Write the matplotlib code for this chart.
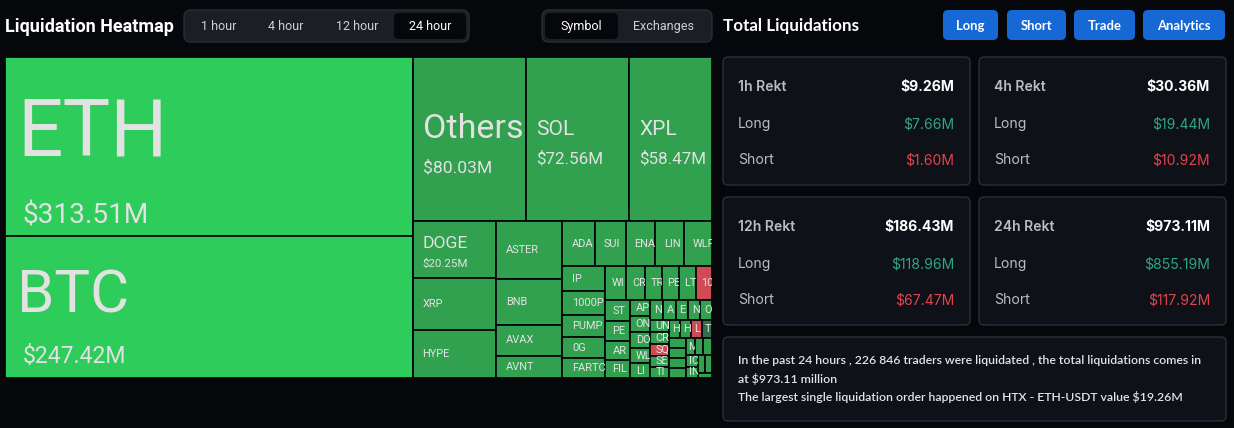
import numpy as np
import matplotlib.pyplot as plt
from matplotlib.patches import Rectangle, FancyBboxPatch

# liquidations per coin, 24h, USD millions (largest first)
coins = ["ETH", "BTC", "Others", "SOL", "XPL", "DOGE", "XRP", "HYPE", "ASTER", "BNB",
         "AVAX", "AVNT", "ADA", "SUI", "ENA", "LINK", "WLFI", "IP", "1000PEPE", "PUMP",
         "0G", "FARTCOIN", "WIF", "CRO", "TRUMP", "PENDLE", "LTC", "1000BONK", "STBL",
         "PENGU", "ARB", "FIL", "APT", "ONDO", "DOT", "WLD", "LINEA", "NEAR", "AAVE",
         "ETC", "NMR", "OP", "UNI", "CRV", "SQD", "SEI", "TIA", "HBAR", "HOME", "LDO", "TAO",
         "JUP", "ZEC", "TON", "KAITO", "MNT", "BCH", "XLM", "ICP", "INJ", "ATOM", "ALGO", "KAS"]
values = [313.51, 247.42, 80.03, 72.56, 58.47, 20.25, 18.6, 17.2, 16.4, 13.0,
          8.8, 6.3, 6.25, 5.98, 5.7, 5.55, 5.46, 4.61, 4.43, 4.06,
          3.87, 3.61, 3.02, 2.73, 2.46, 2.44, 2.42, 2.30, 2.2,
          2.05, 2.0, 1.85, 1.45, 1.4, 1.38, 1.35, 1.3, 1.12, 1.1,
          1.08, 1.05, 1.0, 0.97, 0.95, 0.92, 0.9, 0.88, 0.85, 0.83, 0.8, 0.78,
          0.76, 0.74, 0.72, 0.7, 0.68, 0.66, 0.64, 0.62, 0.6, 0.55, 0.5, 0.3]
show_value = ["ETH", "BTC", "Others", "SOL", "XPL", "DOGE"]
short_heavy = ["1000BONK", "SQD", "LDO"]
balanced = ["TAO"]

# summary cards
periods = ["1h", "4h", "12h", "24h"]
totals = ["$9.26M", "$30.36M", "$186.43M", "$973.11M"]
longs = ["$7.66M", "$19.44M", "$118.96M", "$855.19M"]
shorts = ["$1.60M", "$10.92M", "$67.47M", "$117.92M"]

time_tabs = ["1 hour", "4 hour", "12 hour", "24 hour"]
view_tabs = ["Symbol", "Exchanges"]
buttons = ["Long", "Short", "Trade", "Analytics"]
summary = ["In the past 24 hours , 226 846 traders were liquidated , the total liquidations comes in",
           "at $973.11 million",
           "The largest single liquidation order happened on HTX - ETH-USDT value $19.26M"]

BG = "#05070b"
PX = 0.72  # points per pixel at dpi 100


def worst(row, fixed, ratio):
    s = sum(row)
    f = fixed * fixed * ratio
    return max(f * max(row) / s ** 2, s ** 2 / (f * min(row)))


def place(row, fixed, rect, flush):
    horiz = fixed == rect[2]
    other = sum(row) / fixed
    lim = rect[3] if horiz else rect[2]
    if flush or other > lim:
        other = lim
    pos = rect[0] if horiz else rect[1]
    end = pos + (rect[2] if horiz else rect[3])
    out = []
    for k, a in enumerate(row):
        step = a / other
        if k == len(row) - 1 or end - pos < step:
            step = end - pos
        if horiz:
            out.append((pos, rect[1], step, other))
        else:
            out.append((rect[0], pos, other, step))
        pos += step
    if horiz:
        rect[1] += other
        rect[3] -= other
    else:
        rect[0] += other
        rect[2] -= other
    return out


def squarify(vals, x, y, w, h, ratio=0.5 * (1 + 5 ** 0.5)):
    vals = np.asarray(vals, float)
    areas = list(vals / vals.sum() * w * h)
    rect = [x, y, w, h]
    fixed = min(w, h)
    rects, row, best, i = [], [], np.inf, 0
    while i < len(areas):
        row.append(areas[i])
        s = worst(row, fixed, ratio)
        if s <= best:
            best = s
            i += 1
        else:
            row.pop()
            rects += place(row, fixed, rect, False)
            fixed = min(rect[2], rect[3])
            row, best = [], np.inf
    if row:
        rects += place(row, fixed, rect, True)
    return rects


fig = plt.figure(figsize=(12.34, 4.28), dpi=100, facecolor=BG)
ax = fig.add_axes([0, 0, 1, 1])
ax.set_xlim(0, 1234)
ax.set_ylim(428, 0)
ax.axis("off")
ax.set_facecolor(BG)
renderer = fig.canvas.get_renderer()


def pill(x, y, w, h, fc, ec="none", r=6, lw=0):
    p = FancyBboxPatch((x, y), w, h, boxstyle=f"round,pad=0,rounding_size={r}",
                       fc=fc, ec=ec, lw=lw)
    ax.add_patch(p)
    return p


# ---- header left
ax.text(5, 27, "Liquidation Heatmap", color="white", fontsize=18 * PX, fontweight="bold",
        family="Roboto", va="center", ha="left")
pill(184, 10, 285, 32, "#1b1e25", "#2a2d34", 7, 1)
pill(394, 13, 72, 26, "#05070a", r=5)
for lab, cx in zip(time_tabs, [219, 286, 357, 430]):
    ax.text(cx, 26.5, lab, color="white" if lab == "24 hour" else "#cfd2d6",
            fontsize=12.5 * PX, family="Roboto", ha="center", va="center")
pill(542, 10, 170, 32, "#1b1e25", "#2a2d34", 7, 1)
pill(545, 13, 73, 26, "#05070a", r=5)
for lab, cx in zip(view_tabs, [581, 664]):
    ax.text(cx, 26.5, lab, color="white" if lab == "Symbol" else "#cfd2d6",
            fontsize=12.5 * PX, family="Roboto", ha="center", va="center")

# ---- treemap
cells = squarify(values, 5, 57, 707, 321)
# name px, value px, name baseline / value baseline offset from cell centre
big = {"ETH": (80, 28, 10, 77), "BTC": (60, 23, 5, 56), "Others": (34, 17.5, -1, 33),
       "SOL": (21, 17, -4, 24), "XPL": (21, 17, -4, 24), "DOGE": (17.5, 11.5, -1.5, 17.5)}
for name, val, (x, y, w, h) in zip(coins, values, cells):
    if name in ("ETH", "BTC"):
        fc = "#2ecc5a"
    elif name in short_heavy:
        fc = "#cf4a52"
    elif name in balanced:
        fc = "#2f6d4b"
    else:
        fc = "#31a04f"
    r = Rectangle((x, y), w, h, fc=fc, ec="#06080b", lw=1.3)
    ax.add_patch(r)
    cy = y + h / 2
    if name in show_value:
        npx, vpx, ndy, vdy = big[name]
        pad = 12 if name in ("ETH", "BTC") else 10
        t1 = ax.text(x + pad, cy + ndy, name, color="#e2e2e2", fontsize=npx * PX,
                     family="Roboto", ha="left", va="baseline", clip_on=True)
        t2 = ax.text(x + pad + (6 if name in ("ETH", "BTC") else 0), cy + vdy,
                     f"${val:.2f}M", color="#e2e2e2", fontsize=vpx * PX,
                     family="Roboto", ha="left", va="baseline", clip_on=True)
        t1.set_clip_path(r)
        t2.set_clip_path(r)
    elif h >= 11 and w >= 9:
        pad = min(10, 0.3 * w)
        t = ax.text(x + pad, cy, name, color="#e4e4e4", fontsize=11 * PX,
                    family="Roboto", ha="left", va="center", clip_on=True)
        t.set_clip_path(r)
        # cut the label to what the cell can hold, like the web widget does
        right = ax.transData.transform((x + w, y))[0]
        label = name
        while len(label) > 1 and t.get_window_extent(renderer).x1 > right + 2:
            label = label[:-1]
            t.set_text(label)

# ---- header right
ax.text(723, 26, "Total Liquidations", color="white", fontsize=17 * PX, fontweight="bold",
        family="Lato", va="center", ha="left")
for lab, (bx, bw) in zip(buttons, [(943, 55), (1007, 59), (1074, 61), (1143, 82)]):
    pill(bx, 10, bw, 30, "#1668d4", r=5)
    ax.text(bx + bw / 2, 25.5, lab, color="white", fontsize=13 * PX, fontweight="bold",
            family="Lato", ha="center", va="center")

# ---- cards
for k, per in enumerate(periods):
    cx0 = 723 if k % 2 == 0 else 979
    cy0 = 57 if k < 2 else 197
    pill(cx0, cy0, 247, 128, "#0e1117", "#2b2f37", 5, 1)
    lx, rx = cx0 + 15, cx0 + 231
    ax.text(lx, cy0 + 30, f"{per} Rekt", color="#b9bcc3", fontsize=14 * PX,
            fontweight="semibold", family="Inter", va="center")
    ax.text(rx, cy0 + 30, totals[k], color="white", fontsize=14 * PX,
            fontweight="bold", family="Inter", va="center", ha="right")
    ax.text(lx, cy0 + 67, "Long", color="#b9bcc3", fontsize=14 * PX, family="Inter",
            va="center")
    ax.text(rx, cy0 + 67, longs[k], color="#2fa57f", fontsize=14 * PX, family="Inter",
            va="center", ha="right")
    ax.text(lx, cy0 + 103, "Short", color="#b9bcc3", fontsize=14 * PX, family="Inter",
            va="center")
    ax.text(rx, cy0 + 103, shorts[k], color="#e0434e", fontsize=14 * PX, family="Inter",
            va="center", ha="right")

pill(723, 337, 503, 84, "#0e1117", "#2b2f37", 5, 1)
for line, ly in zip(summary, [360, 379, 397]):
    ax.text(738, ly, line, color="#e3e4e6", fontsize=12.2 * PX, fontweight="semibold",
            family="Lato", va="center", ha="left")

fig.savefig("out.png", dpi=100, facecolor=BG)
